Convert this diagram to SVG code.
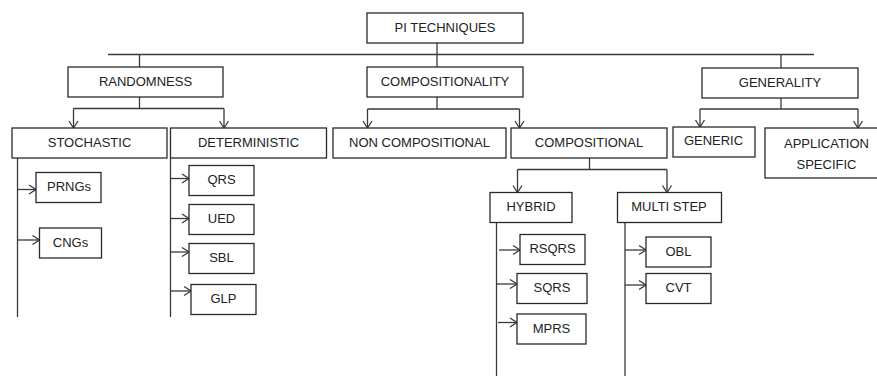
<svg xmlns="http://www.w3.org/2000/svg" width="877" height="376" viewBox="0 0 877 376">
<style>
.box{fill:#fff;stroke:#2a2a2a;stroke-width:1.3}
.lbl{font-family:"Liberation Sans",Arial,sans-serif;font-size:13px;fill:#222;text-anchor:middle;dominant-baseline:central}
.c{fill:none;stroke:#3a3a3a;stroke-width:1.3}
.a{fill:none;stroke:#3a3a3a;stroke-width:1.3;marker-end:url(#arr)}
</style>
<defs>
<marker id="arr" markerUnits="userSpaceOnUse" viewBox="0 0 10 12" refX="8" refY="6" markerWidth="10" markerHeight="12" orient="auto">
<path d="M1,1.5 L8,6 L1,10.5" fill="none" stroke="#3a3a3a" stroke-width="1.3"/>
</marker>
</defs>
<rect width="877" height="376" fill="#fff"/>
<g id="connectors">
<path class="c" d="M108,54.5 H814"/>
<path class="c" d="M437,43 V67"/>
<path class="c" d="M139.5,54.5 V67"/>
<path class="c" d="M781,54.5 V68"/>
<path class="c" d="M139.5,97 V108.5 M73.5,108.5 H224"/>
<path class="a" d="M73.5,108.5 V128"/>
<path class="a" d="M224,108.5 V128"/>
<path class="c" d="M437,97 V109 M367.5,109 H519.5"/>
<path class="a" d="M367.5,109 V128"/>
<path class="a" d="M519.5,109 V128"/>
<path class="c" d="M781,98 V109 M700,109 H858"/>
<path class="a" d="M700,109 V127"/>
<path class="a" d="M858,109 V128"/>
<path class="c" d="M589.5,158 V169.5 M517.5,169.5 H667"/>
<path class="a" d="M517.5,169.5 V192.5"/>
<path class="a" d="M667,169.5 V192.5"/>
<path class="c" d="M17.5,158 V317"/>
<path class="a" d="M17.5,189.5 H36"/>
<path class="a" d="M17.5,240 H39.5"/>
<path class="c" d="M170.5,158 V317"/>
<path class="a" d="M170.5,178.5 H189"/>
<path class="a" d="M170.5,218.5 H189"/>
<path class="a" d="M170.5,252 H189"/>
<path class="a" d="M170.5,291 H191"/>
<path class="c" d="M496.5,222.5 V376"/>
<path class="a" d="M499,250 H520"/>
<path class="a" d="M496.5,284 H517"/>
<path class="a" d="M498,322.5 H517"/>
<path class="c" d="M625,222.5 V376"/>
<path class="a" d="M625,250 H646"/>
<path class="a" d="M625,285 H646"/>
</g>
<g id="pi"><rect class="box" x="367" y="13" width="156" height="30"/><text class="lbl" x="445" y="27.5">PI TECHNIQUES</text></g>
<g id="randomness"><rect class="box" x="68" y="67" width="155" height="30"/><text class="lbl" x="145.5" y="81.5">RANDOMNESS</text></g>
<g id="compositionality"><rect class="box" x="367" y="67" width="156" height="30"/><text class="lbl" x="445" y="81.5">COMPOSITIONALITY</text></g>
<g id="generality"><rect class="box" x="702" y="68" width="156" height="30"/><text class="lbl" x="780" y="82">GENERALITY</text></g>
<g id="stochastic"><rect class="box" x="12" y="128" width="155" height="30"/><text class="lbl" x="89.5" y="142">STOCHASTIC</text></g>
<g id="deterministic"><rect class="box" x="170.5" y="128" width="156" height="30"/><text class="lbl" x="248.5" y="142">DETERMINISTIC</text></g>
<g id="noncompositional"><rect class="box" x="333" y="128" width="173" height="30"/><text class="lbl" x="419.5" y="142">NON COMPOSITIONAL</text></g>
<g id="compositional"><rect class="box" x="511" y="128" width="156" height="30"/><text class="lbl" x="589" y="142">COMPOSITIONAL</text></g>
<g id="generic"><rect class="box" x="673" y="127" width="82" height="30"/><text class="lbl" x="713.5" y="140.5">GENERIC</text></g>
<g id="appspecific"><rect class="box" x="765" y="128" width="125" height="50"/><text class="lbl" x="826.5" y="143">APPLICATION</text><text class="lbl" x="826.5" y="164">SPECIFIC</text></g>
<g id="hybrid"><rect class="box" x="490" y="192.5" width="82" height="30"/><text class="lbl" x="531" y="206.5">HYBRID</text></g>
<g id="multistep"><rect class="box" x="617.5" y="192.5" width="104" height="30"/><text class="lbl" x="669" y="206.5">MULTI STEP</text></g>
<g id="prngs"><rect class="box" x="36" y="172.5" width="65" height="30"/><text class="lbl" x="69" y="186.5">PRNGs</text></g>
<g id="cngs"><rect class="box" x="39.5" y="228" width="62" height="30"/><text class="lbl" x="70.5" y="242">CNGs</text></g>
<g id="qrs"><rect class="box" x="189" y="165.5" width="65" height="30"/><text class="lbl" x="221.5" y="179.5">QRS</text></g>
<g id="ued"><rect class="box" x="189" y="204.5" width="65" height="30"/><text class="lbl" x="221.5" y="218.5">UED</text></g>
<g id="sbl"><rect class="box" x="189" y="243.5" width="65" height="30"/><text class="lbl" x="221.5" y="257.5">SBL</text></g>
<g id="glp"><rect class="box" x="191" y="284.5" width="65" height="30"/><text class="lbl" x="223.5" y="298.5">GLP</text></g>
<g id="rsqrs"><rect class="box" x="520" y="234.5" width="65" height="30"/><text class="lbl" x="552.5" y="248.5">RSQRS</text></g>
<g id="sqrs"><rect class="box" x="517" y="273.5" width="70" height="30"/><text class="lbl" x="552" y="287.5">SQRS</text></g>
<g id="mprs"><rect class="box" x="517" y="314" width="69" height="30"/><text class="lbl" x="551.5" y="328">MPRS</text></g>
<g id="obl"><rect class="box" x="646" y="237" width="65" height="30"/><text class="lbl" x="678.5" y="251">OBL</text></g>
<g id="cvt"><rect class="box" x="646" y="273.5" width="65" height="30"/><text class="lbl" x="678.5" y="287.5">CVT</text></g>
</svg>
